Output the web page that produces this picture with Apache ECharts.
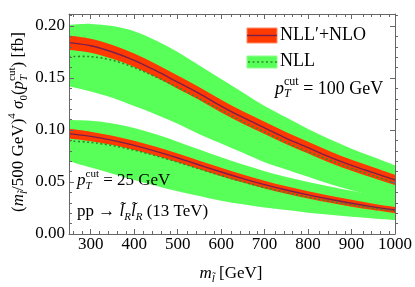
<!DOCTYPE html>
<html><head><meta charset="utf-8">
<script src="https://cdn.jsdelivr.net/npm/echarts@6/dist/echarts.min.js"></script>
<style>html,body{margin:0;padding:0;background:#fff}#c{width:415px;height:287px}</style>
</head><body><div id="c"></div>
<script>
// ---- data ----
const mass = [250,300,350,400,450,500,550,600,650,700,750,800,850,900,950,1000];

// pT cut = 100 GeV
const nlo100Central = [0.184,0.181,0.175,0.167,0.157,0.146,0.135,0.123,0.112,0.102,0.092,0.083,0.074,0.066,0.059,0.052];
const nlo100Hi = [0.1908,0.1877,0.1816,0.1735,0.1634,0.1523,0.1412,0.1291,0.1180,0.1079,0.0978,0.0886,0.0795,0.0713,0.0642,0.0570];
const nlo100Lo = [0.1772,0.1743,0.1684,0.1605,0.1506,0.1397,0.1288,0.1169,0.1060,0.0961,0.0862,0.0774,0.0685,0.0607,0.0538,0.0470];
const nll100Central = [0.1705,0.1705,0.167,0.160,0.151,0.141,0.130,0.119,0.108,0.098,0.088,0.079,0.071,0.063,0.056,0.049];
const nll100Hi = [0.201,0.202,0.200,0.195,0.186,0.175,0.162,0.149,0.136,0.123,0.112,0.101,0.091,0.082,0.074,0.066];
const nll100Lo = [0.142,0.137,0.131,0.123,0.115,0.106,0.096,0.087,0.078,0.069,0.062,0.055,0.048,0.042,0.037,0.032];

// pT cut = 25 GeV
const nlo25Central = [0.0965,0.0938,0.0900,0.0852,0.0795,0.0731,0.0663,0.0596,0.0533,0.0475,0.0423,0.0376,0.0334,0.0296,0.0261,0.0230];
const nlo25Hi = [0.1012,0.0984,0.0945,0.0896,0.0838,0.0773,0.0704,0.0636,0.0572,0.0513,0.0459,0.0411,0.0368,0.0329,0.0292,0.0260];
const nlo25Lo = [0.0918,0.0892,0.0855,0.0808,0.0752,0.0689,0.0622,0.0556,0.0494,0.0437,0.0387,0.0341,0.0300,0.0263,0.0230,0.0200];
const nll25Central = [0.0895,0.0880,0.0850,0.0806,0.0752,0.0691,0.0626,0.0562,0.0502,0.0447,0.0398,0.0354,0.0315,0.0280,0.0248,0.0220];
const nll25Hi = [0.1095,0.1088,0.1062,0.1018,0.0958,0.0888,0.0812,0.0737,0.0667,0.0604,0.0549,0.0500,0.0456,0.0416,0.0379,0.0345];
const nll25Lo = [0.0700,0.0640,0.0580,0.0520,0.0465,0.0410,0.0365,0.0320,0.0285,0.0255,0.0230,0.0205,0.0185,0.0165,0.0150,0.0135];

// ticks
const xMajorTicks = [300,400,500,600,700,800,900,1000];
const xMinorTicks = [260,280,320,340,360,380,420,440,460,480,520,540,560,580,620,640,660,680,720,740,760,780,820,840,860,880,920,940,960,980];
const yMajorTicks = [0,0.05,0.10,0.15,0.20];
const yMinorTicks = [0.01,0.02,0.03,0.04,0.06,0.07,0.08,0.09,0.11,0.12,0.13,0.14,0.16,0.17,0.18,0.19,0.21];
const legendNames = ['NLL\u2032+NLO','NLL'];

// ---- styling ----
const FONT = 'Liberation Serif';
const FS = 17;
const FRAME = '#666';
const GREEN = '#58FF58';
const RED = '#FF3A00';
const PURPLE = '#7A1E4E';
const DOTGREEN = '#2D8A2D';
const XMIN = 250, XMAX = 1000, YMIN = 0, YMAX = 0.2115;

// Catmull-Rom -> cubic bezier through screen points
function crPath(p){
  let d = '';
  for (let i = 0; i < p.length - 1; i++){
    const p0 = p[i-1] || p[i], p1 = p[i], p2 = p[i+1], p3 = p[i+2] || p2;
    const c1x = p1[0] + (p2[0]-p0[0])/6, c1y = p1[1] + (p2[1]-p0[1])/6;
    const c2x = p2[0] - (p3[0]-p1[0])/6, c2y = p2[1] - (p3[1]-p1[1])/6;
    d += ' C' + c1x + ' ' + c1y + ' ' + c2x + ' ' + c2y + ' ' + p2[0] + ' ' + p2[1];
  }
  return d;
}

function band(id, lo, hi, color){
  return {type:'custom', id:id, silent:true, clip:true, z:2,
    data: mass.map((m,i)=>[m, lo[i], hi[i]]),
    encode:{x:0, y:[1,2]},
    renderItem:(params, api)=>{
      if (params.dataIndex !== 0) return null;
      const up = mass.map((m,i)=>api.coord([m, hi[i]]));
      const dn = mass.map((m,i)=>api.coord([m, lo[i]])).reverse();
      const d = 'M' + up[0][0] + ' ' + up[0][1] + crPath(up) + ' L' + dn[0][0] + ' ' + dn[0][1] + crPath(dn) + ' Z';
      return {type:'path', shape:{pathData:d}, style:{fill:color, stroke:null}};
    }};
}
function curve(id, arr, color, dash, width){
  return {type:'custom', id:id, silent:true, clip:true, z:3,
    data: mass.map((m,i)=>[m, arr[i]]),
    encode:{x:0, y:1},
    renderItem:(params, api)=>{
      if (params.dataIndex !== 0) return null;
      const p = mass.map((m,i)=>api.coord([m, arr[i]]));
      const d = 'M' + p[0][0] + ' ' + p[0][1] + crPath(p);
      return {type:'path', shape:{pathData:d}, style:{fill:null, stroke:color, lineWidth:width, lineDash:dash}};
    }};
}

function xAx(gridIndex, position, ticks, len, showLine, showLabel){
  return {type:'value', gridIndex, position, min:XMIN, max:XMAX, z:10,
    axisLine:{show:showLine, onZero:false, lineStyle:{color:FRAME, width:1}},
    axisTick:{show:true, inside:true, length:len, customValues:ticks, lineStyle:{color:FRAME, width:1}},
    axisLabel:{show:showLabel, customValues:ticks, margin:2, fontFamily:FONT, fontSize:FS, color:'#000',
      formatter: v => String(Math.round(v))},
    splitLine:{show:false}, minorTick:{show:false}};
}
function yAx(gridIndex, position, ticks, len, showLine, showLabel){
  return {type:'value', gridIndex, position, min:YMIN, max:YMAX, z:10,
    axisLine:{show:showLine, onZero:false, lineStyle:{color:FRAME, width:1}},
    axisTick:{show:true, inside:true, length:len, customValues:ticks, lineStyle:{color:FRAME, width:1}},
    axisLabel:{show:showLabel, customValues:ticks, margin:4, fontFamily:FONT, fontSize:FS, color:'#000',
      formatter: v => Number(v).toFixed(2)},
    splitLine:{show:false}, minorTick:{show:false}};
}

// rich text helper (real text pieces, sub/superscripts)
const mctx = document.createElement('canvas').getContext('2d');
function richGroup(parts, base){
  const B = base || FS;
  let x = 0, stackX = 0, lastW = 0;
  const children = [];
  for (const p of parts){
    const s = p.s ? Math.round(p.s * B / FS) : B;
    const font = (p.i ? 'italic ' : '') + s + 'px "' + FONT + '"';
    mctx.font = font;
    const w = mctx.measureText(p.t).width;
    let px;
    if (p.stack){ px = stackX; x = stackX + Math.max(lastW, w); }
    else { px = x; stackX = x; lastW = w; x += w; }
    children.push({type:'text', x:px, y:(p.dy||0) * B / FS, silent:true, z:100,
      style:{text:p.t, font:font, fill:'#000', textAlign:'left', textVerticalAlign:'middle', verticalAlign:'middle'}});
  }
  return {children, width:x};
}

const yTitle = richGroup([
  {t:'('}, {t:'m', i:1}, {t:'l\u0303', i:1, s:11, dy:5}, {t:'/500 GeV)'}, {t:'4', s:11, dy:-7},
  {t:' '}, {t:'\u03C3', i:1}, {t:'0', s:11, dy:5}, {t:'('}, {t:'p', i:1},
  {t:'cut', s:11, dy:-7}, {t:'T', i:1, s:11, dy:5, stack:1}, {t:') [fb]'}
]);
const xTitle = richGroup([{t:'m', i:1}, {t:'l\u0303', i:1, s:11, dy:5}, {t:' [GeV]'}]);
const ann100 = richGroup([{t:'p', i:1}, {t:'cut', s:11, dy:-7}, {t:'T', i:1, s:11, dy:5, stack:1}, {t:' = 100 GeV'}], 18);
const ann25 = richGroup([{t:'p', i:1}, {t:'cut', s:11, dy:-7}, {t:'T', i:1, s:11, dy:5, stack:1}, {t:' = 25 GeV'}]);
const annProc = richGroup([{t:'pp \u2192 '}, {t:'l\u0303', i:1}, {t:'R', i:1, s:11, dy:5}, {t:'l\u0303', i:1}, {t:'R', i:1, s:11, dy:5}, {t:' (13 TeV)'}]);
const LFS = 18;

const graphics = [
  {type:'group', z:100, x:19, y:122 + yTitle.width/2, rotation:Math.PI/2, children:yTitle.children},
  {type:'group', z:100, x:231 - xTitle.width/2, y:274, children:xTitle.children},
  {type:'group', z:100, x:275, y:89, children:ann100.children},
  {type:'group', z:100, x:77, y:181, children:ann25.children},
  {type:'group', z:100, x:77, y:212, children:annProc.children},
  // legend
  {type:'rect', z:100, shape:{x:247, y:28, width:30, height:15}, style:{fill:RED, stroke:'#FF8A66', lineWidth:1}, silent:true},
  {type:'line', z:101, shape:{x1:247, y1:35.5, x2:277, y2:35.5}, style:{stroke:PURPLE, lineWidth:1.4}, silent:true},
  {type:'text', z:100, x:280, y:35.5, silent:true, style:{text:legendNames[0], font:LFS+'px "'+FONT+'"', fill:'#000', textAlign:'left', textVerticalAlign:'middle', verticalAlign:'middle'}},
  {type:'rect', z:100, shape:{x:247, y:56, width:30, height:12}, style:{fill:GREEN, stroke:'#8CFF8C', lineWidth:1}, silent:true},
  {type:'line', z:101, shape:{x1:248, y1:62, x2:277, y2:62}, style:{stroke:DOTGREEN, lineWidth:1.6, lineDash:[2,2.5]}, silent:true},
  {type:'text', z:100, x:280, y:61, silent:true, style:{text:legendNames[1], font:LFS+'px "'+FONT+'"', fill:'#000', textAlign:'left', textVerticalAlign:'middle', verticalAlign:'middle'}}
];

const chart = echarts.init(document.getElementById('c'), null, {renderer:'canvas'});
chart.setOption({
  animation:false,
  backgroundColor:'#fff',
  grid:[
    {left:69, right:17, top:14, bottom:53},
    {left:69, right:17, top:14, bottom:53}
  ],
  xAxis:[
    xAx(0,'bottom',xMajorTicks,5,true,true),
    xAx(0,'top',xMajorTicks,5,true,false),
    xAx(1,'bottom',xMinorTicks,3,false,false),
    xAx(1,'top',xMinorTicks,3,false,false)
  ],
  yAxis:[
    yAx(0,'left',yMajorTicks,5,true,true),
    yAx(0,'right',yMajorTicks,5,true,false),
    yAx(1,'left',yMinorTicks,3,false,false),
    yAx(1,'right',yMinorTicks,3,false,false)
  ],
  series:[
    band('g100', nll100Lo, nll100Hi, GREEN),
    band('g25', nll25Lo, nll25Hi, GREEN),
    band('r100', nlo100Lo, nlo100Hi, RED),
    band('r25', nlo25Lo, nlo25Hi, RED),
    curve('c100', nlo100Central, PURPLE, null, 1.4),
    curve('c25', nlo25Central, PURPLE, null, 1.4),
    curve('d100', nll100Central, DOTGREEN, [2,2.5], 1.6),
    curve('d25', nll25Central, DOTGREEN, [2,2.5], 1.6)
  ],
  graphic: graphics
});
</script>
</body></html>
